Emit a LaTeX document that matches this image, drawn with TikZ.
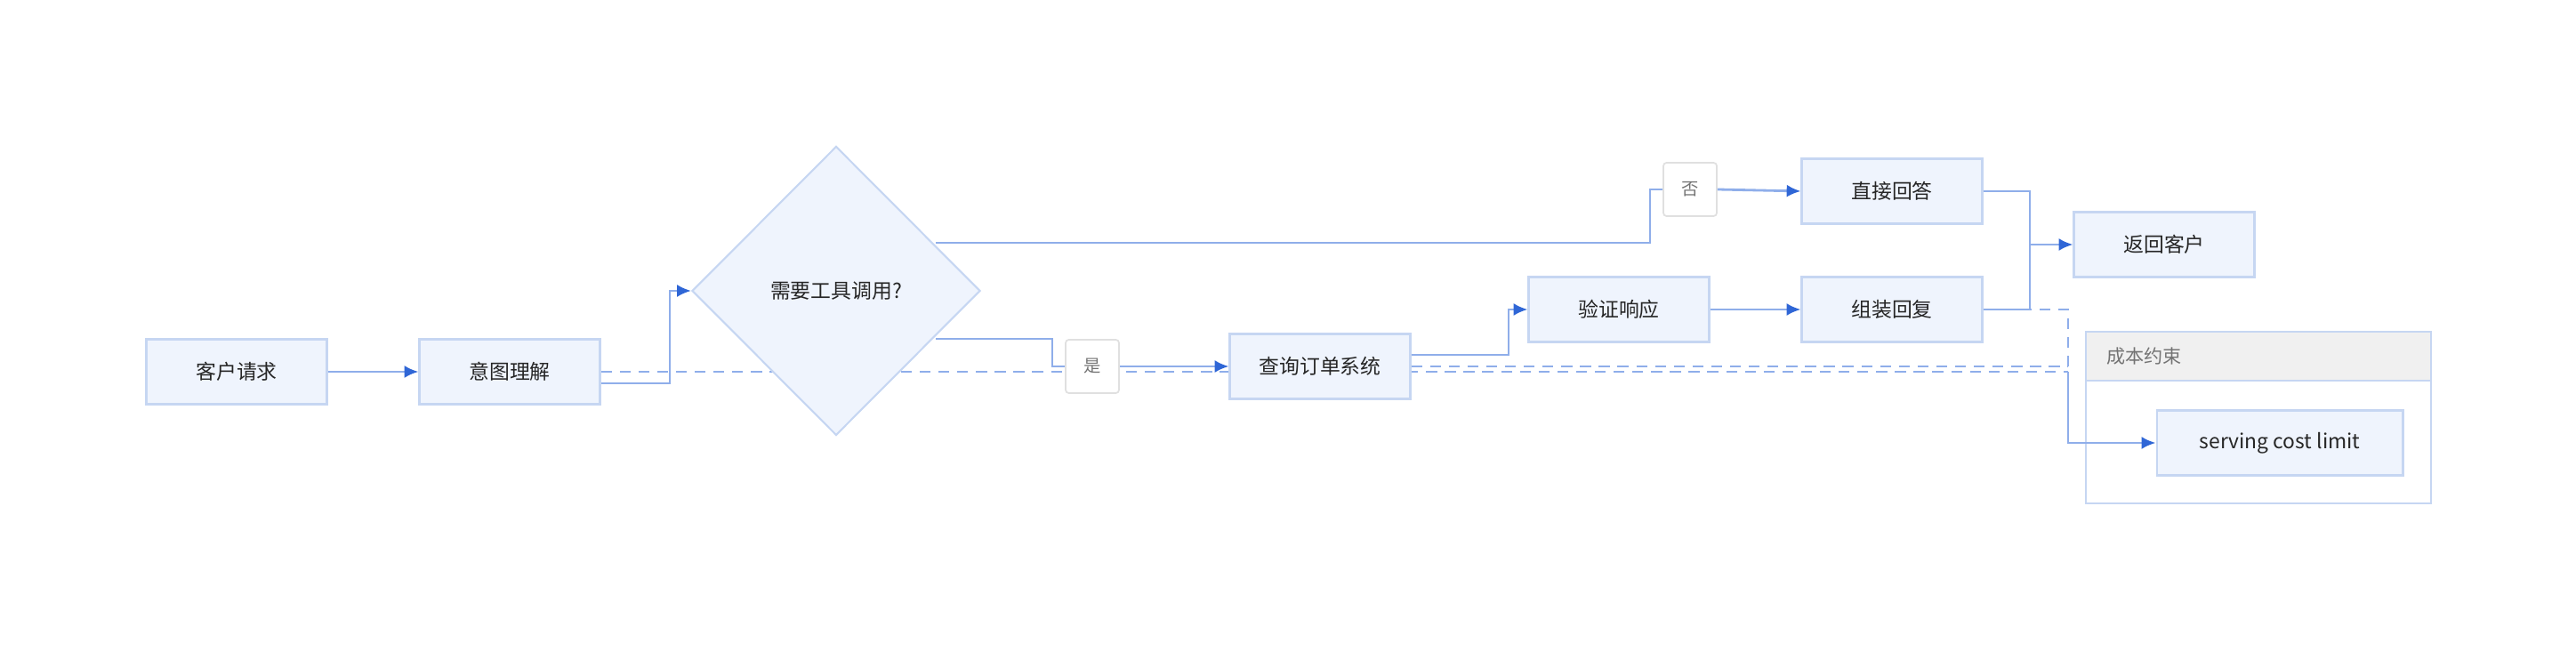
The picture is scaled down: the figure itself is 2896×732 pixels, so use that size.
\documentclass[tikz,border=0pt]{standalone}
\usepackage{fontspec}
\setmainfont{Noto Sans CJK SC}
\usepackage{tikz}
\usetikzlibrary{arrows,arrows.meta,shapes,backgrounds}
\definecolor{boxfill}{HTML}{EFF4FD}
\definecolor{boxline}{HTML}{C6D6F2}
\definecolor{wire}{HTML}{8FAEEA}
\definecolor{tip}{HTML}{2F66D6}
\tikzstyle{stage}=[rectangle,draw=boxline,fill=boxfill,line width=1.2pt,minimum width=4.06cm,minimum height=1.46cm,font=\fontsize{13}{15}\selectfont,text=black!85]
\tikzstyle{choice}=[diamond,draw=boxline,fill=boxfill,line width=1.2pt,minimum width=6.48cm,minimum height=6.5cm,inner sep=0pt,font=\fontsize{13}{15}\selectfont,text=black!85]
\tikzstyle{tag}=[rectangle,rounded corners=2pt,draw=black!12,fill=white,line width=1pt,minimum width=1.2cm,minimum height=1.2cm,font=\fontsize{11}{13}\selectfont,text=black!55]
\tikzstyle{flow}=[draw=wire,line width=1.6pt,-{Latex[length=9pt,width=8pt,color=tip]}]
\tikzstyle{cost}=[draw=wire,line width=1.6pt,dash pattern=on 7pt off 5pt]

\begin{document}
\begin{tikzpicture}[x=0.02cm,y=-0.02cm]
            \useasboundingbox (0,0) rectangle (2896,732);

            % dashed cost links go under everything
            \coordinate (ja) at (2325,418);
            \coordinate (jb) at (2325,412);
            \coordinate (jc) at (2325,348);
            \coordinate (jd) at (2325,498);

            \node[stage] (req) at (266,418) {客户请求};
            \node[stage] (intent) at (573,418) {意图理解};
            \draw[cost] (intent.east) -- (ja);

            \node[stage] (query) at (1484,412) {查询订单系统};
            \draw[cost] (query.east) -- (jb);

            \node[choice] (need) at (940,327) {需要工具调用?};
            \node[tag] (yes) at (1228,412) {是};
            \node[tag] (no) at (1900,213) {否};

            \node[stage] (check) at (1820,348) {验证响应};
            \node[stage] (build) at (2127,348) {组装回复};
            \node[stage] (direct) at (2127,215) {直接回答};
            \node[stage] (back) at (2433,275) {返回客户};
            \draw[cost] (build.east) -- (jc) -- (ja);

            % cost group
            \draw[draw=boxline,fill=white,line width=1.2pt] (2345,373) rectangle (2733,566);
            \draw[draw=boxline,fill=black!6,line width=1.2pt] (2345,373) rectangle (2733,428);
            \node[anchor=west,font=\fontsize{12}{14}\selectfont,text=black!55] (grp) at (2362,401) {成本约束};
            \node[stage,minimum width=5.54cm] (limit) at (2563,498) {serving cost limit};
            \path[flow] (ja) -- (jd) -- (limit.west);

            \path[flow] (req) -- (intent);
            \path[flow] ([yshift=-0.26cm]intent.east) -| (753,327) -- (need.west);
            \draw[draw=wire,line width=1.6pt] (1052,273) -| (1855,213) -- (no.west);
            \path[flow] (no.east) -- (direct.west);
            \draw[draw=wire,line width=1.6pt] (1052,381) -| (1183,412) -- (yes.west);
            \path[flow] (yes.east) -- (query.west);
            \path[flow] ([yshift=0.26cm]query.east) -| (1696,348) -- (check.west);
            \path[flow] (check) -- (build);
            \draw[draw=wire,line width=1.6pt] (direct.east) -| (2282,348) -- (build.east);
            \path[flow] (2282,275) -- (back.west);
        \end{tikzpicture}
\end{document}
